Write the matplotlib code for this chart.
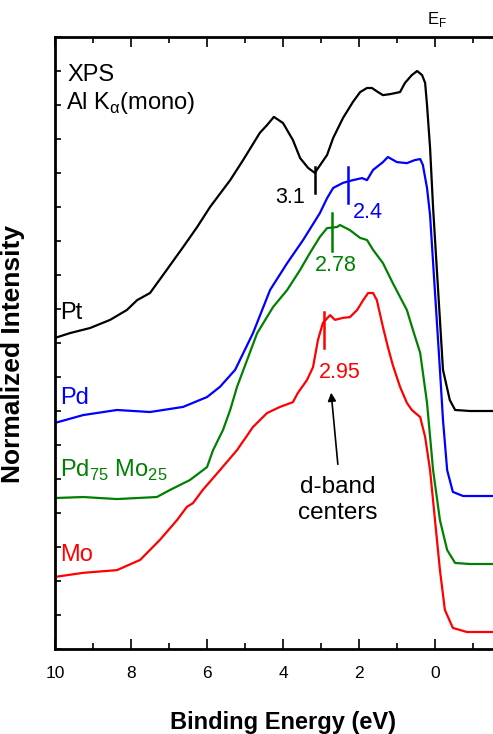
import matplotlib
matplotlib.use("Agg")
import matplotlib.pyplot as plt
from matplotlib.ticker import MultipleLocator

plt.rcParams['font.family'] = ['Liberation Sans', 'DejaVu Sans']

# binding energy (eV) and normalized intensity (offset, arb. units)
pt_x = [10.0, 9.61, 9.08, 8.55, 8.11, 7.84, 7.50, 7.06, 6.63, 6.26, 5.92, 5.39, 5.05,
        4.61, 4.42, 4.24, 4.00, 3.74, 3.55, 3.34, 3.16, 3.11, 2.84, 2.68, 2.42, 2.16,
        1.97, 1.79, 1.66, 1.50, 1.37, 1.18, 0.92, 0.79, 0.61, 0.47, 0.34, 0.26, 0.21,
        0.13, 0.05, -0.21, -0.39, -0.53, -0.92, -2.0]
pt_y = [9.15, 9.29, 9.44, 9.68, 9.97, 10.26, 10.47, 11.15, 11.82, 12.41, 13.00, 13.79, 14.38,
        15.18, 15.41, 15.65, 15.47, 14.97, 14.44, 14.15, 14.00, 14.09, 14.53, 15.03, 15.62, 16.09,
        16.38, 16.50, 16.50, 16.38, 16.29, 16.32, 16.38, 16.65, 16.88, 17.00, 16.88, 16.65, 16.00,
        14.74, 12.97, 8.21, 7.32, 7.03, 7.00, 7.00]

pd_x = [10.0, 9.26, 8.37, 7.50, 6.63, 6.00, 5.66, 5.26, 4.79, 4.34, 3.89, 3.47, 3.03,
        2.84, 2.68, 2.42, 2.16, 1.92, 1.79, 1.63, 1.37, 1.24, 1.00, 0.74, 0.53, 0.39,
        0.32, 0.21, 0.13, -0.13, -0.21, -0.32, -0.47, -0.74, -2.0]
pd_y = [6.65, 6.88, 7.03, 6.97, 7.12, 7.41, 7.71, 8.21, 9.29, 10.56, 11.35, 12.03, 12.82,
        13.26, 13.56, 13.71, 13.79, 13.85, 13.79, 14.09, 14.32, 14.47, 14.32, 14.29, 14.38, 14.41,
        14.24, 13.56, 12.76, 8.21, 6.74, 5.26, 4.62, 4.50, 4.50]

pdmo_x = [10.0, 9.26, 8.37, 7.32, 6.97, 6.45, 6.00, 5.84, 5.58, 5.39, 5.21, 4.68, 4.26,
          3.89, 3.55, 3.29, 3.03, 2.84, 2.58, 2.50, 2.24, 1.97, 1.79, 1.63, 1.37, 1.11,
          0.74, 0.58, 0.39, 0.21, 0.05, -0.13, -0.32, -0.53, -0.92, -2.0]
pdmo_y = [4.44, 4.47, 4.41, 4.47, 4.68, 4.97, 5.35, 5.85, 6.44, 7.03, 7.71, 9.29, 10.06,
          10.56, 11.15, 11.65, 12.12, 12.38, 12.41, 12.47, 12.32, 12.09, 12.03, 11.74, 11.35, 10.76,
          9.97, 9.38, 8.71, 7.24, 5.26, 3.79, 2.91, 2.53, 2.50, 2.50]

mo_x = [10.0, 9.26, 8.37, 7.76, 7.24, 6.79, 6.53, 6.37, 6.11, 5.66, 5.21, 4.79, 4.42,
        4.08, 3.74, 3.61, 3.37, 3.21, 3.08, 2.95, 2.76, 2.63, 2.42, 2.24, 2.05, 1.89,
        1.76, 1.63, 1.53, 1.37, 1.24, 1.11, 0.92, 0.74, 0.61, 0.39, 0.26, 0.13, 0.00,
        -0.13, -0.26, -0.47, -0.84, -2.0]
mo_y = [2.12, 2.24, 2.32, 2.62, 3.21, 3.79, 4.18, 4.29, 4.68, 5.26, 5.85, 6.53, 6.94,
        7.12, 7.26, 7.53, 7.91, 8.29, 9.09, 9.59, 9.82, 9.68, 9.74, 9.76, 9.97, 10.26,
        10.47, 10.47, 10.26, 9.47, 8.88, 8.35, 7.71, 7.24, 7.03, 6.82, 6.24, 5.26, 3.79,
        2.32, 1.15, 0.62, 0.50, 0.50]

# d-band centre markers: position, y extent, label text
center_x = [3.16, 2.29, 2.71, 2.92]
center_ylo = [13.41, 13.12, 11.70, 8.85]
center_yhi = [14.18, 14.18, 12.82, 9.91]
center_lbl = ['3.1', '2.4', '2.78', '2.95']

colors = ['black', '#0000ff', '#008000', '#ff0000']
names = ['Pt', 'Pd', r'Pd$_{\mathregular{75}}$ Mo$_{\mathregular{25}}$', 'Mo']
name_y = [9.88, 7.38, 5.26, 2.76]

fig = plt.figure(figsize=(4.93, 7.34), dpi=100)
ax = fig.add_axes([0.1116, 0.1158, 0.9249, 0.8338])

curves = [(pt_x, pt_y), (pd_x, pd_y), (pdmo_x, pdmo_y), (mo_x, mo_y)]
for (xs, ys), c in zip(curves, colors):
    ax.plot(xs, ys, color=c, lw=1.6)

for xc, lo, hi, c in zip(center_x, center_ylo, center_yhi, colors):
    ax.plot([xc, xc], [lo, hi], color=c, lw=1.8)

fs = 16
ax.text(3.42, 13.29, center_lbl[0], color=colors[0], fontsize=fs - 0.5, ha='right', va='center')
ax.text(2.16, 12.85, center_lbl[1], color=colors[1], fontsize=fs - 0.5, ha='left', va='center')
ax.text(3.16, 11.29, center_lbl[2], color=colors[2], fontsize=fs - 0.5, ha='left', va='center')
ax.text(3.05, 8.12, center_lbl[3], color=colors[3], fontsize=fs - 0.5, ha='left', va='center')

for n, yy, c in zip(names, name_y, colors):
    ax.text(9.86, yy, n, color=c, fontsize=fs + 1, ha='left', va='center')

ax.text(9.66, 16.88, 'XPS', fontsize=fs + 1, ha='left', va='center')
ax.text(9.71, 16.06, r'Al K$_{\mathregular{α}}$(mono)', fontsize=fs + 1, ha='left', va='center')

ax.annotate('', xy=(2.74, 7.62), xytext=(2.55, 5.35),
            arrowprops=dict(arrowstyle='-|>', color='black', lw=1.2, mutation_scale=12))
ax.text(2.55, 4.38, 'd-band\ncenters', fontsize=fs + 1.5, ha='center', va='center', linespacing=1.2)

ax.text(-0.05, 18.5, r'E$_{\mathregular{F}}$', fontsize=12, ha='center', va='center', clip_on=False)

ax.set_xlim(10, -2)
ax.set_ylim(0, 18)
ax.set_xticks([10, 8, 6, 4, 2, 0, -2], labels=['10', '8', '6', '4', '2', '0', ''])
ax.xaxis.set_minor_locator(MultipleLocator(1))
ax.yaxis.set_major_locator(MultipleLocator(1))
ax.tick_params(axis='x', which='major', direction='in', top=True, length=7, width=1.2,
               labelsize=12.5, pad=12)
ax.tick_params(axis='x', which='minor', direction='in', top=True, length=4, width=1.2)
ax.tick_params(axis='y', which='major', direction='in', length=4, width=1.2, labelleft=False)
for s in ax.spines.values():
    s.set_linewidth(2)

ax.set_xlabel('Binding Energy (eV)', fontsize=17, fontweight='bold')
ax.set_ylabel('Normalized Intensity', fontsize=19, fontweight='bold')
ax.xaxis.set_label_coords(0.5, -0.102)
ax.yaxis.set_label_coords(-0.066, 0.482)

fig.savefig('out.png', dpi=100)
